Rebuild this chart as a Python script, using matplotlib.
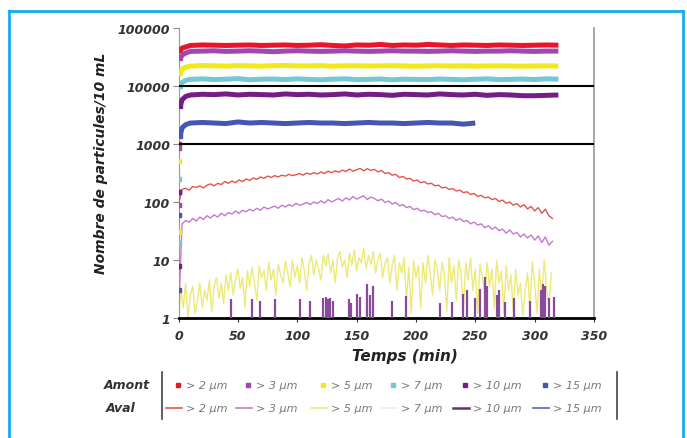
import numpy as np
import matplotlib
matplotlib.use("Agg")
from matplotlib import pyplot as plt
from matplotlib.lines import Line2D

W, H = 687, 439

# Amont (upstream) counts, particles / 10 mL
t_amont = [0, 0.7, 1.5, 3, 6] + list(range(10, 330, 10))
amont_2 = [150, 1000, 42000, 45000, 47000,
           50000, 51000, 50500, 50000, 50500, 51000, 50000, 50500, 51000, 50000,
           50500, 51500, 50000, 49000, 51000, 50500, 52000, 50000, 51000, 50500,
           52000, 51000, 50000, 51000, 50500, 50000, 51000, 50500, 50000, 50500,
           51000, 50500]
amont_3 = [90, 850, 30000, 34000, 37000,
           39500, 40000, 40500, 39500, 40000, 40500, 40000, 39000, 40000, 40500,
           40000, 39500, 40000, 40500, 40000, 39500, 40000, 40500, 40000, 40000,
           39500, 40000, 40500, 40000, 39500, 40000, 40000, 40500, 40000, 39500,
           40000, 40000]
amont_5 = [30, 500, 17000, 19500, 21000,
           22000, 22500, 22300, 22000, 22500, 22300, 22000, 22400, 22600, 22200,
           22300, 22500, 22000, 22300, 22400, 22100, 22300, 22500, 22200, 22000,
           22300, 22400, 22100, 22300, 22000, 22200, 22300, 22100, 22000, 22200,
           22300, 22100]
amont_7 = [20, 250, 10000, 11500, 12500,
           13000, 13300, 12900, 13100, 13400, 12800, 13100, 13200, 12900, 13300,
           13000, 12800, 13100, 13300, 12900, 13000, 13200, 12800, 13100, 13000,
           12900, 13200, 13000, 12800, 13100, 13300, 12900, 13000, 13200, 12900,
           13300, 13100]
amont_10 = [8, 150, 4500, 5800, 6600,
            7000, 7200, 7100, 7300, 7000, 7200, 7100, 7000, 7300, 7100,
            7200, 7000, 7100, 7300, 7000, 7200, 7100, 6900, 7200, 7100,
            7000, 7300, 7100, 7000, 7200, 6900, 7100, 7000, 6800, 6800,
            6900, 7000]
amont_15 = [3, 60, 1400, 1900, 2150,
            2300, 2350, 2300, 2250, 2400, 2300, 2350, 2300, 2250, 2300,
            2350, 2300, 2300, 2250, 2300, 2350, 2300, 2300, 2250, 2300,
            2350, 2300, 2300, 2200, 2300]

# Aval (downstream) counts
t_aval = list(range(0, 316, 3))
aval_2 = [90, 165, 172, 160, 185, 178, 190, 175, 195, 205,
          190, 210, 200, 225, 210, 230, 215, 240, 225, 250,
          235, 260, 245, 270, 255, 280, 265, 285, 270, 290,
          280, 300, 285, 295, 310, 290, 315, 300, 320, 305,
          330, 310, 340, 320, 345, 325, 355, 335, 370, 340,
          360, 380, 345, 375, 350, 365, 330, 350, 310, 320,
          290, 300, 265, 275, 250, 255, 230, 240, 215, 225,
          205, 210, 190, 195, 175, 180, 165, 170, 155, 160,
          145, 150, 135, 140, 125, 130, 118, 122, 110, 115,
          102, 108, 95, 100, 88, 94, 82, 90, 76, 84,
          70, 80, 64, 75, 58, 52]
aval_3 = [1, 42, 48, 45, 52, 47, 55, 50, 58, 53,
          60, 55, 64, 58, 66, 62, 70, 64, 72, 68,
          75, 70, 78, 72, 82, 76, 80, 85, 78, 88,
          82, 90, 85, 95, 88, 92, 98, 90, 100, 94,
          105, 96, 110, 100, 108, 115, 104, 118, 108, 125,
          112, 120, 128, 110, 122, 115, 105, 112, 98, 104,
          92, 98, 86, 90, 80, 84, 74, 78, 70, 72,
          66, 68, 60, 64, 56, 58, 52, 55, 48, 52,
          46, 48, 42, 45, 40, 42, 36, 39, 34, 37,
          32, 34, 29, 33, 28, 30, 25, 28, 24, 27,
          22, 26, 20, 25, 18, 21]
t_aval_5 = list(range(0, 315, 2))
aval_5 = [1, 3, 1.5, 4, 1, 2.5, 3.5, 1.2, 2, 4,
          1.5, 3, 2, 4.5, 1.3, 3.5, 5, 2.2, 4, 1.8,
          5.5, 3, 6, 2.5, 4.5, 7, 3.2, 5, 1.5, 6.5,
          3.5, 7.5, 4, 2, 8, 5, 6.5, 3, 9, 4.5,
          7, 2.5, 8.5, 5.5, 4, 9.5, 6, 3.5, 10, 5,
          8, 4, 11, 6.5, 3, 9, 12, 5.5, 10, 7,
          4.5, 12, 8, 13, 6, 10, 4, 11, 14, 7.5,
          10, 5, 13, 8, 15, 6.5, 11, 9, 16, 7,
          12, 8.5, 14, 6, 10, 13, 5, 9, 11, 4,
          8, 12, 3, 9, 6, 11, 2, 7.5, 1.2, 10,
          5, 8, 1.5, 9, 4, 12, 6, 2.5, 10, 7,
          3, 9, 5.5, 1.3, 11, 4, 8, 2, 10, 6,
          1.5, 9, 4.5, 11, 3, 7, 1.2, 8.5, 5, 2.5,
          9, 3.5, 7, 1.5, 10, 4, 6.5, 1.2, 8, 3,
          5.5, 1.3, 7, 2.5, 4, 1.1, 3, 6, 1.5, 9.5,
          4, 1.2, 7, 2, 10, 3.5, 1.5, 6]
# > 10 µm aval: isolated counts above baseline
spike_t = [44, 62, 69, 81, 102, 111, 122, 124, 126, 128, 130, 144, 145, 150, 153,
           159, 161, 164, 180, 192, 220, 230, 240, 243, 250, 254, 258, 260, 268,
           270, 275, 283, 296, 305, 307, 309, 312, 316]
spike_v = [2.1, 2.1, 2, 2.1, 2.1, 2, 2.2, 2.3, 2.1, 2.2, 2, 2.1, 1.8, 2.6, 2.3,
           3.9, 2.5, 3.5, 2, 2.4, 1.8, 1.9, 2.6, 3, 2.2, 3.2, 5, 3.5, 2.5,
           3, 1.9, 2.2, 2, 3, 3.8, 3.5, 2.2, 2.3]

sizes = ["> 2 µm", "> 3 µm", "> 5 µm", "> 7 µm", "> 10 µm", "> 15 µm"]
c_amont = ["#E8152B", "#A047B0", "#F2E81C", "#72C8D4", "#761C88", "#4656B2"]
c_aval = ["#E0564E", "#C47ACC", "#EDEA78", "#F3EEE8", "#6E2A80", "#5566BB"]

fig = plt.figure(figsize=(W / 100, H / 100), dpi=100)


def px(x, y):
    return x / W, 1 - y / H


ax = fig.add_axes([178.5 / W, 1 - 319 / H, (594 - 178.5) / W, 290 / H])
ax.set_yscale("log")
ax.set_xlim(0, 350)
ax.set_ylim(1, 100000)

# aval lines
ax.plot(t_aval_5, aval_5, color=c_aval[2], lw=1.0, zorder=2)
ax.vlines(spike_t, 1, spike_v, color="#8A4A9C", lw=1.6, zorder=3)
ax.plot(t_aval, aval_3, color=c_aval[1], lw=1.0, zorder=3)
ax.plot(t_aval, aval_2, color=c_aval[0], lw=1.0, zorder=3)

# amont bands
amont = [amont_2, amont_3, amont_5, amont_7, amont_10, amont_15]
for vals, c in zip(amont, c_amont):
    tt = t_amont[:len(vals)]
    ax.plot(tt[:3], vals[:3], ls="none", marker="s", ms=3, color=c, zorder=4)
    ax.plot(tt[2:], vals[2:], color=c, lw=3.6, solid_capstyle="butt", zorder=4)

ax.axhline(1000, color="black", lw=1.5, zorder=5)
ax.axhline(10000, color="black", lw=1.5, zorder=5)

ax.set_xticks(range(0, 351, 50))
ax.set_yticks([1, 10, 100, 1000, 10000, 100000])
ax.set_yticklabels(["1", "10", "100", "1000", "10000", "100000"])
ax.yaxis.set_minor_locator(matplotlib.ticker.NullLocator())
for lab in ax.get_xticklabels() + ax.get_yticklabels():
    lab.set_fontweight("bold")
    lab.set_fontstyle("italic")
    lab.set_color("#333333")
    lab.set_fontsize(9)
ax.tick_params(axis="y", length=4, color="#888888", pad=2)
ax.tick_params(axis="x", length=3, color="#333333", pad=5)
ax.spines["top"].set_visible(False)
ax.spines["left"].set_color("#999999")
ax.spines["right"].set_color("#999999")
ax.spines["right"].set_linewidth(1.2)
ax.spines["bottom"].set_color("black")
ax.spines["bottom"].set_linewidth(2)

fig.text(*px(405, 357), "Temps (min)", ha="center", va="center", fontsize=11,
         fontweight="bold", fontstyle="italic", color="#222222")
fig.text(*px(101, 163), "Nombre de particules/10 mL", ha="center", va="center",
         rotation=90, fontsize=10, fontweight="bold", fontstyle="italic", color="#222222")

# legend table
row1, row2 = 386, 409
fig.text(*px(127, row1), "Amont", ha="center", va="center", fontsize=9,
         fontweight="bold", fontstyle="italic", color="#333333")
fig.text(*px(121, row2), "Aval", ha="center", va="center", fontsize=9,
         fontweight="bold", fontstyle="italic", color="#333333")
fig.add_artist(Line2D([162 / W, 162 / W], [1 - 373 / H, 1 - 420 / H], color="#444444", lw=1.2))
fig.add_artist(Line2D([617 / W, 617 / W], [1 - 373 / H, 1 - 420 / H], color="#444444", lw=1.2))
col_x = [178, 248, 323, 393, 465, 545]
for x, s, ca, cv in zip(col_x, sizes, c_amont, c_aval):
    mx, my = px(x, row1)
    fig.add_artist(Line2D([mx], [my], marker="s", ms=2.5, color=ca, ls="none"))
    fig.text(*px(x + 8, row1), s, ha="left", va="center", fontsize=8,
             fontstyle="italic", color="#777777")
    lw = 1.8 if s == "> 10 µm" else 1.2
    fig.add_artist(Line2D([(x - 12) / W, (x + 4) / W], [1 - row2 / H] * 2, color=cv, lw=lw))
    fig.text(*px(x + 8, row2), s, ha="left", va="center", fontsize=8,
             fontstyle="italic", color="#777777")

# blue frame
blue = "#16AEEA"
fig.add_artist(Line2D([9 / W, 683 / W], [1 - 12 / H] * 2, color=blue, lw=2))
fig.add_artist(Line2D([9 / W, 9 / W], [1 - 12 / H, 0], color=blue, lw=2))
fig.add_artist(Line2D([683 / W, 683 / W], [1 - 12 / H, 0], color=blue, lw=2))

fig.savefig("out.png", dpi=100)
